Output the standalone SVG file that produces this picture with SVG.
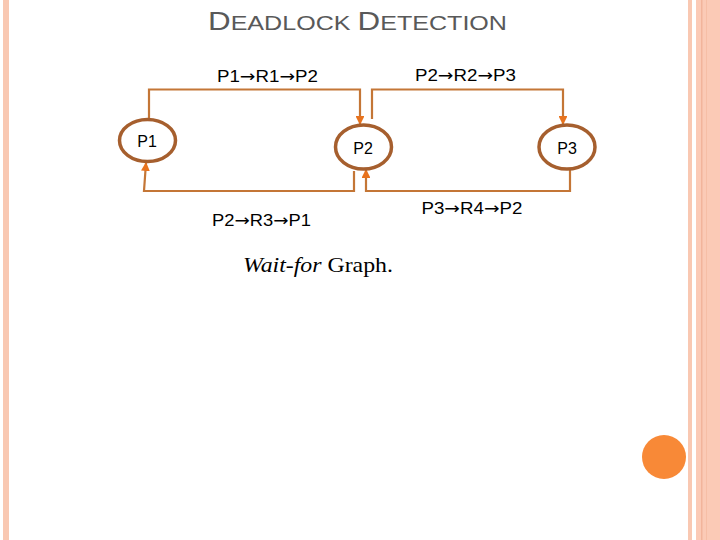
<svg xmlns="http://www.w3.org/2000/svg" width="720" height="540" viewBox="0 0 720 540">
<defs>
<style>
.node ellipse{fill:#ffffff;stroke:#a65f2e;stroke-width:3.5}
.lbl{font-family:"Liberation Sans",Arial,sans-serif;font-size:16px;fill:#000}
.ar{font-family:"DejaVu Sans",sans-serif;font-size:16px}
.conn path{fill:none;stroke:#c47636;stroke-width:2.2}
</style>
<marker id="arr" viewBox="0 0 10 10" refX="9" refY="5" markerWidth="4" markerHeight="4" orient="auto" markerUnits="strokeWidth">
<path d="M0,0 L10,5 L0,10 z" fill="#e8731e"/>
</marker>
</defs>
<rect width="720" height="540" fill="#ffffff"/>
<!-- decorative borders -->
<rect x="3" y="0" width="6" height="540" fill="#f9c8b2"/>
<rect x="688" y="0" width="4" height="540" fill="#f9c8b2"/>
<rect x="696" y="0" width="24" height="540" fill="#fbcab6"/>
<rect x="701" y="0" width="1.5" height="540" fill="#f2b49b"/>
<rect x="706" y="0" width="1" height="540" fill="#f6bea6"/>
<circle cx="664" cy="457" r="22" fill="#f88937"/>
<!-- title -->
<text x="208" y="30" font-family="'Liberation Sans',Arial,sans-serif" fill="#595959" textLength="299" lengthAdjust="spacingAndGlyphs"><tspan font-size="25">D</tspan><tspan font-size="20">EADLOCK </tspan><tspan font-size="25">D</tspan><tspan font-size="20">ETECTION</tspan></text>
<!-- connectors -->
<g id="connectors" class="conn">
<path d="M149,118 V89.5 H360 V124" marker-end="url(#arr)"/>
<path d="M372,119 V89.5 H563 V124" marker-end="url(#arr)"/>
<path d="M354,171 V191 H144 L146,163" marker-end="url(#arr)"/>
<path d="M570,168 V191 H366 V170" marker-end="url(#arr)"/>
</g>
<!-- edge labels -->
<g id="edge-labels">
<text class="lbl" x="217" y="81.5" textLength="101" lengthAdjust="spacingAndGlyphs">P1<tspan class="ar">→</tspan>R1<tspan class="ar">→</tspan>P2</text>
<text class="lbl" x="415" y="80.5" textLength="101" lengthAdjust="spacingAndGlyphs">P2<tspan class="ar">→</tspan>R2<tspan class="ar">→</tspan>P3</text>
<text class="lbl" x="212" y="225.5" textLength="99" lengthAdjust="spacingAndGlyphs">P2<tspan class="ar">→</tspan>R3<tspan class="ar">→</tspan>P1</text>
<text class="lbl" x="421.5" y="214" textLength="101" lengthAdjust="spacingAndGlyphs">P3<tspan class="ar">→</tspan>R4<tspan class="ar">→</tspan>P2</text>
</g>
<!-- nodes -->
<g id="node-P1" class="node">
<ellipse cx="147.5" cy="140.5" rx="28" ry="21"/>
<text class="lbl" x="147" y="146.5" text-anchor="middle">P1</text>
</g>
<g id="node-P2" class="node">
<ellipse cx="363.5" cy="147" rx="28" ry="22"/>
<text class="lbl" x="363" y="154" text-anchor="middle">P2</text>
</g>
<g id="node-P3" class="node">
<ellipse cx="567" cy="147" rx="28" ry="22"/>
<text class="lbl" x="567" y="153.5" text-anchor="middle">P3</text>
</g>
<!-- caption -->
<text x="243" y="271.5" font-family="'Liberation Serif','Times New Roman',serif" font-size="22" fill="#000" textLength="150" lengthAdjust="spacingAndGlyphs"><tspan font-style="italic">Wait-for</tspan> Graph.</text>
</svg>
